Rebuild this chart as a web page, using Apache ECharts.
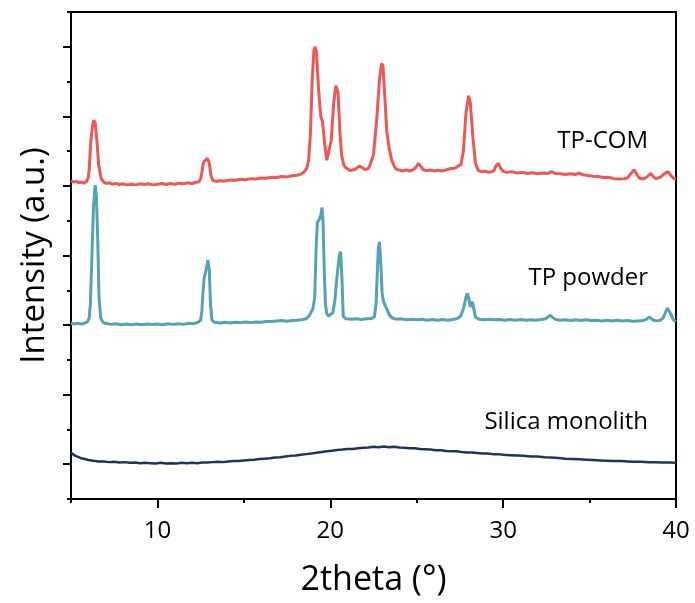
<!DOCTYPE html>
<html>
<head>
<meta charset="utf-8">
<script src="https://cdn.jsdelivr.net/npm/echarts@6/dist/echarts.min.js"></script>
<style>
  html, body { margin: 0; padding: 0; background: #fff; }
  #chart { width: 695px; height: 603px; }
</style>
</head>
<body>
<div id="chart"></div>
<script>
// XRD patterns: [2theta (deg), intensity (a.u., stacked offsets)]
const tpCom = [
  [5.0, 915], [5.15, 911], [5.3, 913], [5.45, 909], [5.6, 911], [5.75, 908], [5.9, 913],
  [6.0, 925], [6.05, 945], [6.15, 1030], [6.25, 1075], [6.32, 1089], [6.4, 1080], [6.5, 1030],
  [6.6, 960], [6.75, 920], [6.9, 911], [7.05, 907], [7.2, 909], [7.4, 905], [7.6, 907],
  [7.8, 904], [8.0, 906], [8.25, 903], [8.5, 905], [8.75, 903], [9.0, 906], [9.25, 904],
  [9.5, 906], [9.75, 903], [10.0, 905], [10.25, 907], [10.5, 904], [10.75, 907], [11.0, 905],
  [11.25, 908], [11.5, 906], [11.75, 909], [12.0, 907], [12.2, 910], [12.4, 912], [12.5, 920],
  [12.57, 940], [12.65, 965], [12.72, 971], [12.8, 966], [12.9, 979], [13.0, 965], [13.1, 930],
  [13.2, 916], [13.4, 913], [13.6, 915], [13.9, 914], [14.2, 917], [14.5, 916], [14.8, 919],
  [15.1, 918], [15.4, 921], [15.7, 920], [16.0, 923], [16.3, 922], [16.6, 925], [16.9, 924],
  [17.2, 927], [17.5, 926], [17.8, 929], [18.1, 931], [18.3, 934], [18.5, 941], [18.65, 952],
  [18.75, 975], [18.85, 1050], [18.95, 1200], [19.05, 1290], [19.12, 1300], [19.2, 1285],
  [19.32, 1180], [19.45, 1100], [19.55, 1085], [19.68, 1020], [19.8, 974], [19.9, 978],
  [20.05, 1030], [20.2, 1140], [20.32, 1188], [20.37, 1192], [20.45, 1170], [20.55, 1060],
  [20.65, 990], [20.78, 960], [20.9, 952], [21.0, 948], [21.15, 944], [21.3, 946], [21.45, 948],
  [21.6, 954], [21.72, 957], [21.85, 952], [22.0, 947], [22.1, 946], [22.2, 950], [22.3, 960],
  [22.5, 990], [22.7, 1100], [22.85, 1210], [22.97, 1252], [23.05, 1245], [23.15, 1160],
  [23.27, 1056], [23.4, 1010], [23.55, 975], [23.75, 951], [23.9, 947], [24.0, 945],
  [24.2, 943], [24.4, 946], [24.6, 943], [24.8, 947], [24.95, 953], [25.1, 965], [25.25, 955],
  [25.4, 946], [25.6, 944], [25.8, 946], [26.0, 943], [26.25, 945], [26.5, 943], [26.75, 947],
  [27.0, 950], [27.2, 951], [27.4, 957], [27.56, 962], [27.7, 1000], [27.85, 1110], [28.0, 1159],
  [28.1, 1140], [28.25, 1040], [28.4, 965], [28.55, 945], [28.75, 941], [29.0, 942],
  [29.2, 939], [29.45, 943], [29.6, 958], [29.71, 965], [29.85, 952], [30.0, 942], [30.2, 939],
  [30.5, 941], [30.8, 937], [31.1, 939], [31.4, 936], [31.7, 938], [32.0, 935], [32.3, 937],
  [32.6, 936], [32.8, 941], [33.0, 936], [33.3, 935], [33.6, 933], [33.9, 935], [34.2, 933],
  [34.4, 937], [34.6, 932], [34.9, 930], [35.2, 928], [35.5, 927], [35.8, 924], [36.1, 925],
  [36.4, 921], [36.7, 920], [37.0, 921], [37.2, 923], [37.4, 936], [37.57, 946], [37.75, 932],
  [37.9, 922], [38.1, 920], [38.3, 925], [38.54, 936], [38.7, 926], [38.85, 921], [39.1, 925],
  [39.35, 936], [39.54, 941], [39.7, 930], [39.85, 922], [40.0, 920]
];

const tpPowder = [
  [5.0, 505], [5.2, 503], [5.4, 505], [5.6, 503], [5.8, 506], [5.95, 509], [6.05, 520],
  [6.12, 560], [6.2, 680], [6.3, 840], [6.4, 902], [6.47, 870], [6.55, 740], [6.62, 580],
  [6.72, 520], [6.85, 508], [7.0, 505], [7.3, 502], [7.6, 504], [7.9, 501], [8.2, 503],
  [8.5, 501], [8.8, 503], [9.1, 501], [9.4, 503], [9.7, 502], [10.0, 503], [10.3, 501],
  [10.6, 504], [10.9, 502], [11.2, 504], [11.5, 502], [11.8, 505], [12.1, 504], [12.35, 508],
  [12.5, 514], [12.57, 540], [12.63, 590], [12.7, 634], [12.8, 655], [12.92, 687], [13.0, 660],
  [13.07, 560], [13.15, 515], [13.3, 508], [13.6, 506], [13.9, 508], [14.2, 506], [14.5, 508],
  [14.8, 507], [15.1, 509], [15.4, 507], [15.7, 509], [16.0, 508], [16.3, 510], [16.6, 510],
  [16.9, 512], [17.2, 513], [17.5, 511], [17.8, 513], [18.1, 514], [18.4, 516], [18.6, 518],
  [18.8, 528], [19.0, 548], [19.1, 580], [19.18, 720], [19.25, 795], [19.35, 802], [19.45, 815],
  [19.52, 838], [19.58, 800], [19.65, 660], [19.72, 560], [19.8, 532], [19.9, 526], [20.0, 525],
  [20.15, 536], [20.27, 572], [20.35, 620], [20.43, 658], [20.52, 700], [20.6, 711],
  [20.67, 640], [20.75, 525], [20.9, 518], [21.2, 517], [21.5, 518], [21.8, 516], [22.1, 518],
  [22.4, 519], [22.55, 524], [22.65, 560], [22.72, 650], [22.78, 720], [22.84, 739],
  [22.92, 680], [23.0, 590], [23.08, 568], [23.18, 556], [23.28, 545], [23.4, 530], [23.6, 520],
  [23.8, 517], [24.1, 518], [24.4, 515], [24.7, 517], [25.0, 515], [25.3, 517], [25.6, 514],
  [25.9, 516], [26.2, 514], [26.5, 516], [26.8, 514], [27.1, 516], [27.35, 519], [27.55, 526],
  [27.72, 550], [27.85, 580], [27.93, 591], [28.02, 575], [28.1, 552], [28.17, 560],
  [28.22, 567], [28.3, 548], [28.4, 523], [28.6, 517], [28.9, 515], [29.2, 517], [29.5, 515],
  [29.8, 516], [30.1, 514], [30.4, 516], [30.7, 514], [31.0, 516], [31.3, 514], [31.6, 515],
  [31.9, 514], [32.2, 516], [32.45, 518], [32.6, 524], [32.74, 528], [32.88, 521], [33.05, 516],
  [33.3, 514], [33.6, 515], [33.9, 513], [34.2, 515], [34.5, 513], [34.8, 515], [35.1, 513],
  [35.4, 514], [35.7, 512], [36.0, 514], [36.3, 512], [36.6, 514], [36.9, 512], [37.2, 513],
  [37.5, 511], [37.8, 512], [38.1, 513], [38.3, 517], [38.45, 523], [38.55, 521], [38.7, 514],
  [38.9, 512], [39.1, 514], [39.25, 520], [39.38, 535], [39.5, 549], [39.6, 547], [39.72, 530],
  [39.85, 515], [40.0, 510]
];

const silica = [
  [5.0, 133], [5.1, 128], [5.25, 124], [5.4, 121], [5.6, 117], [5.8, 115], [6.0, 112],
  [6.3, 110], [6.6, 108], [6.9, 108], [7.2, 106], [7.5, 107], [7.8, 105], [8.1, 106],
  [8.4, 104], [8.7, 105], [9.0, 103], [9.3, 104], [9.6, 103], [9.9, 102], [10.2, 104],
  [10.5, 102], [10.8, 103], [11.1, 102], [11.4, 104], [11.7, 103], [12.0, 104], [12.3, 103],
  [12.6, 105], [12.9, 105], [13.2, 106], [13.5, 107], [13.8, 106], [14.1, 108], [14.4, 109],
  [14.7, 109], [15.0, 111], [15.3, 112], [15.6, 113], [15.9, 115], [16.2, 116], [16.5, 117],
  [16.8, 119], [17.1, 120], [17.4, 122], [17.7, 124], [18.0, 125], [18.3, 127], [18.6, 129],
  [18.9, 131], [19.2, 133], [19.5, 135], [19.8, 137], [20.1, 139], [20.4, 141], [20.7, 142],
  [21.0, 144], [21.3, 144], [21.6, 146], [21.9, 147], [22.2, 148], [22.5, 150], [22.8, 149],
  [23.1, 151], [23.4, 149], [23.7, 150], [24.0, 148], [24.3, 147], [24.6, 146], [24.9, 146],
  [25.2, 144], [25.5, 143], [25.8, 142], [26.1, 140], [26.4, 140], [26.7, 138], [27.0, 137],
  [27.3, 137], [27.6, 135], [27.9, 134], [28.2, 134], [28.5, 132], [28.8, 131], [29.1, 131],
  [29.4, 129], [29.7, 129], [30.0, 127], [30.4, 126], [30.8, 125], [31.2, 124], [31.6, 122],
  [32.0, 122], [32.4, 120], [32.8, 119], [33.2, 118], [33.6, 116], [34.0, 115], [34.4, 114],
  [34.8, 113], [35.2, 112], [35.6, 111], [36.0, 110], [36.4, 109], [36.8, 109], [37.2, 108],
  [37.6, 107], [38.0, 107], [38.4, 106], [38.8, 106], [39.2, 105], [39.6, 105], [40.0, 104]
];

const seriesNames = ['TP-COM', 'TP powder', 'Silica monolith'];
const xMajorTicks = [10, 20, 30, 40];
const xMinorTicks = [5, 15, 25, 35];
const yMajorTicks = [100, 300, 500, 700, 900, 1100, 1300];
const yMinorTicks = [0, 200, 400, 600, 800, 1000, 1200, 1400];

const FONT = '"Open Sans", "Noto Sans", sans-serif';
const colors = ['#F05656', '#52A4B1', '#22345C'];

const chart = echarts.init(document.getElementById('chart'), null, { renderer: 'canvas' });

const xBase = { type: 'value', min: 5, max: 40, position: 'bottom', splitLine: { show: false } };
const yBase = { type: 'value', min: 0, max: 1400, position: 'left', splitLine: { show: false } };

chart.setOption({
  animation: false,
  backgroundColor: '#fff',
  grid: {
    left: 71, right: 19, top: 12, bottom: 104,
    show: true, borderColor: '#000', borderWidth: 2, backgroundColor: 'transparent'
  },
  xAxis: [
    Object.assign({}, xBase, {
      name: '2theta (°)', nameLocation: 'middle', nameGap: 64,
      nameTextStyle: { fontFamily: FONT, fontSize: 34, color: '#000' },
      axisLine: { show: true, lineStyle: { color: '#000', width: 2 } },
      axisTick: { show: true, length: 9, customValues: xMajorTicks, lineStyle: { color: '#000', width: 2 } },
      axisLabel: { show: true, customValues: xMajorTicks, margin: 20, fontFamily: FONT, fontSize: 24, color: '#000' }
    }),
    Object.assign({}, xBase, {
      axisLine: { show: false },
      axisTick: { show: true, length: 4, customValues: xMinorTicks, lineStyle: { color: '#000', width: 2 } },
      axisLabel: { show: false }
    })
  ],
  yAxis: [
    Object.assign({}, yBase, {
      name: 'Intensity (a.u.)', nameLocation: 'middle', nameGap: 20,
      nameTextStyle: { fontFamily: FONT, fontSize: 33, color: '#000' },
      axisLine: { show: true, lineStyle: { color: '#000', width: 2 } },
      axisTick: { show: true, length: 8, customValues: yMajorTicks, lineStyle: { color: '#000', width: 2 } },
      axisLabel: { show: false }
    }),
    Object.assign({}, yBase, {
      axisLine: { show: false },
      axisTick: { show: true, length: 4, customValues: yMinorTicks, lineStyle: { color: '#000', width: 2 } },
      axisLabel: { show: false }
    })
  ],
  series: [tpCom, tpPowder, silica].map((data, i) => ({
    name: seriesNames[i],
    type: 'line',
    data: data,
    xAxisIndex: 0,
    yAxisIndex: 0,
    showSymbol: false,
    smooth: false,
    lineStyle: { color: colors[i], width: i === 2 ? 2.5 : 3 },
    z: 3 - i
  })),
  graphic: [
    { type: 'text', right: 47, top: 129, style: { text: seriesNames[0], font: '24px ' + FONT, fill: '#000' } },
    { type: 'text', right: 47, top: 266, style: { text: seriesNames[1], font: '24px ' + FONT, fill: '#000' } },
    { type: 'text', right: 47, top: 410, style: { text: seriesNames[2], font: '24px ' + FONT, fill: '#000' } }
  ]
});
</script>
</body>
</html>
